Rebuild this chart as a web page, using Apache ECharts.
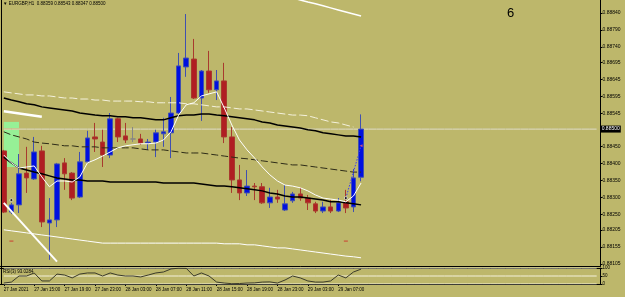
<!DOCTYPE html>
<html>
<head>
<meta charset="utf-8">
<script src="https://cdn.jsdelivr.net/npm/echarts@6/dist/echarts.min.js"></script>
<style>
  html, body { margin: 0; padding: 0; background: #BDB76B; }
  #main { width: 625px; height: 297px; }
</style>
</head>
<body>
<div id="main"></div>
<script>
// EURGBP H1 bars, 27 Jan 11:00 .. 29 Jan 10:00
const times = [
  '27 Jan 11:00', '27 Jan 12:00', '27 Jan 13:00', '27 Jan 14:00', '27 Jan 15:00', '27 Jan 16:00',
  '27 Jan 17:00', '27 Jan 18:00', '27 Jan 19:00', '27 Jan 20:00', '27 Jan 21:00', '27 Jan 22:00',
  '27 Jan 23:00', '28 Jan 00:00', '28 Jan 01:00', '28 Jan 02:00', '28 Jan 03:00', '28 Jan 04:00',
  '28 Jan 05:00', '28 Jan 06:00', '28 Jan 07:00', '28 Jan 08:00', '28 Jan 09:00', '28 Jan 10:00',
  '28 Jan 11:00', '28 Jan 12:00', '28 Jan 13:00', '28 Jan 14:00', '28 Jan 15:00', '28 Jan 16:00',
  '28 Jan 17:00', '28 Jan 18:00', '28 Jan 19:00', '28 Jan 20:00', '28 Jan 21:00', '28 Jan 22:00',
  '28 Jan 23:00', '29 Jan 00:00', '29 Jan 01:00', '29 Jan 02:00', '29 Jan 03:00', '29 Jan 04:00',
  '29 Jan 05:00', '29 Jan 06:00', '29 Jan 07:00', '29 Jan 08:00', '29 Jan 09:00', '29 Jan 10:00'
];
const firstLabel = '27 Jan 2021';

const opens = [
  0.88436, 0.88257, 0.88278, 0.88371, 0.88354, 0.88436, 0.88225, 0.88234, 0.88401, 0.88371,
  0.88301, 0.88404, 0.88477, 0.88462, 0.88424, 0.88530, 0.88480, 0.88471, 0.88471, 0.88459,
  0.88462, 0.88486, 0.88489, 0.88547, 0.88682, 0.88705, 0.88591, 0.88670, 0.88615, 0.88641,
  0.88477, 0.88351, 0.88313, 0.88333, 0.88331, 0.88284, 0.88301, 0.88263, 0.88290, 0.88310,
  0.88298, 0.88281, 0.88260, 0.88272, 0.88260, 0.88287, 0.88272, 0.88359
];
const closes = [
  0.88257, 0.88278, 0.88369, 0.88357, 0.88433, 0.88228, 0.88234, 0.88398, 0.88369, 0.88298,
  0.88404, 0.88474, 0.88471, 0.88424, 0.88530, 0.88477, 0.88468, 0.88471, 0.88459, 0.88462,
  0.88489, 0.88492, 0.88547, 0.88685, 0.88708, 0.88591, 0.88670, 0.88615, 0.88641, 0.88477,
  0.88351, 0.88313, 0.88333, 0.88331, 0.88284, 0.88301, 0.88295, 0.88281, 0.88310, 0.88298,
  0.88284, 0.88260, 0.88272, 0.88260, 0.88284, 0.88269, 0.88357, 0.88500
];
const lows = [
  0.88254, 0.88251, 0.88254, 0.88313, 0.88351, 0.88213, 0.88117, 0.88213, 0.88322, 0.88292,
  0.88298, 0.88401, 0.88433, 0.88389, 0.88415, 0.88462, 0.88459, 0.88462, 0.88454, 0.88439,
  0.88418, 0.88448, 0.88415, 0.88544, 0.88653, 0.88588, 0.88524, 0.88606, 0.88585, 0.88459,
  0.88313, 0.88292, 0.88304, 0.88292, 0.88281, 0.88269, 0.88284, 0.88260, 0.88284, 0.88290,
  0.88263, 0.88254, 0.88254, 0.88254, 0.88257, 0.88254, 0.88257, 0.88347
];
const highs = [
  0.88439, 0.88284, 0.88427, 0.88448, 0.88477, 0.88451, 0.88298, 0.88401, 0.88415, 0.88374,
  0.88433, 0.88495, 0.88518, 0.88498, 0.88547, 0.88533, 0.88518, 0.88506, 0.88486, 0.88471,
  0.88498, 0.88533, 0.88594, 0.88723, 0.88837, 0.88764, 0.88673, 0.88729, 0.88673, 0.88694,
  0.88506, 0.88395, 0.88380, 0.88342, 0.88342, 0.88328, 0.88322, 0.88336, 0.88316, 0.88328,
  0.88307, 0.88287, 0.88287, 0.88292, 0.88298, 0.88322, 0.88383, 0.88543
];

// fast moving average (white)
const maFast = [
  0.88424, 0.88401, 0.88386, 0.88389, 0.88392, 0.88360, 0.88331, 0.88348, 0.88348, 0.88345,
  0.88360, 0.88401, 0.88410, 0.88421, 0.88433, 0.88445, 0.88451, 0.88454, 0.88457, 0.88457,
  0.88459, 0.88468, 0.88492, 0.88541, 0.88571, 0.88577, 0.88597, 0.88603, 0.88609, 0.88562,
  0.88512, 0.88468, 0.88439, 0.88415, 0.88389, 0.88366, 0.88348, 0.88336, 0.88333, 0.88328,
  0.88319, 0.88307, 0.88298, 0.88295, 0.88292, 0.88287, 0.88304, 0.88342
];
// upper black line
const blackUpper = [
  0.88591, 0.88585, 0.88580, 0.88574, 0.88571, 0.88565, 0.88562, 0.88559, 0.88556, 0.88553,
  0.88547, 0.88544, 0.88541, 0.88539, 0.88539, 0.88536, 0.88536, 0.88533, 0.88533, 0.88530,
  0.88527, 0.88527, 0.88533, 0.88539, 0.88541, 0.88541, 0.88544, 0.88544, 0.88541, 0.88539,
  0.88536, 0.88533, 0.88530, 0.88527, 0.88521, 0.88518, 0.88512, 0.88509, 0.88506, 0.88503,
  0.88498, 0.88495, 0.88489, 0.88486, 0.88483, 0.88480, 0.88480, 0.88477
];
// lower black line
const blackLower = [
  0.88418, 0.88401, 0.88386, 0.88380, 0.88374, 0.88369, 0.88363, 0.88357, 0.88354, 0.88351,
  0.88351, 0.88348, 0.88348, 0.88348, 0.88345, 0.88345, 0.88345, 0.88345, 0.88345, 0.88345,
  0.88345, 0.88342, 0.88342, 0.88342, 0.88342, 0.88342, 0.88339, 0.88336, 0.88333, 0.88333,
  0.88331, 0.88328, 0.88325, 0.88322, 0.88319, 0.88313, 0.88310, 0.88304, 0.88301, 0.88301,
  0.88298, 0.88295, 0.88292, 0.88287, 0.88287, 0.88284, 0.88281, 0.88278
];
// dark dashed middle line
const midDashed = [
  0.88492, 0.88483, 0.88477, 0.88471, 0.88462, 0.88459, 0.88457, 0.88454, 0.88451, 0.88451,
  0.88448, 0.88448, 0.88448, 0.88445, 0.88445, 0.88445, 0.88445, 0.88445, 0.88442, 0.88439,
  0.88439, 0.88439, 0.88436, 0.88433, 0.88430, 0.88430, 0.88430, 0.88427, 0.88424, 0.88421,
  0.88418, 0.88415, 0.88413, 0.88410, 0.88407, 0.88404, 0.88401, 0.88398, 0.88395, 0.88395,
  0.88392, 0.88389, 0.88386, 0.88383, 0.88380, 0.88377, 0.88374, 0.88374
];
// white dashed line
const whiteDashed = [
  0.88609, 0.88606, 0.88603, 0.88600, 0.88600, 0.88597, 0.88597, 0.88594, 0.88591, 0.88591,
  0.88588, 0.88588, 0.88585, 0.88585, 0.88582, 0.88582, 0.88582, 0.88582, 0.88580, 0.88580,
  0.88577, 0.88577, 0.88577, 0.88577, 0.88574, 0.88574, 0.88571, 0.88568, 0.88565, 0.88565,
  0.88562, 0.88559, 0.88559, 0.88556, 0.88553, 0.88550, 0.88547, 0.88544, 0.88541, 0.88541,
  0.88539, 0.88533, 0.88527, 0.88521, 0.88518, 0.88512, 0.88506, null
];
// lower white band
const whiteLower = [
  0.88205, 0.88202, 0.88199, 0.88196, 0.88193, 0.88190, 0.88187, 0.88184, 0.88181, 0.88178,
  0.88175, 0.88172, 0.88169, 0.88166, 0.88166, 0.88166, 0.88166, 0.88166, 0.88166, 0.88166,
  0.88166, 0.88166, 0.88166, 0.88166, 0.88166, 0.88166, 0.88166, 0.88166, 0.88166, 0.88164,
  0.88164, 0.88164, 0.88161, 0.88161, 0.88158, 0.88155, 0.88152, 0.88152, 0.88149, 0.88146,
  0.88143, 0.88140, 0.88137, 0.88134, 0.88131, 0.88128, 0.88126, 0.88123
];
// upper white band (only its end is inside the window), from bar 38
const whiteUpperFrom = 38;
const whiteUpper = [0.88884, 0.88878, 0.88872, 0.88867, 0.88861, 0.88855, 0.88849, 0.88843, 0.88837, 0.88831];

const rsi = [
  6, 12, 50, 50, 69, 19, 19, 62, 56, 38,
  62, 69, 69, 50, 69, 56, 50, 50, 44, 56,
  69, 75, 94, 99, 98, 50, 69, 50, 12, 6,
  2, 3, 6, 7, 12, 13, 6, 25, 50, 38,
  19, 12, 12, 19, 56, 38, 75, 93
];
const rsiLevels = [100, 50, 0];

const yTickLabels = [
  '0.88105', '0.88155', '0.88205', '0.88250', '0.88300', '0.88350', '0.88400', '0.88450',
  '0.88545', '0.88595', '0.88645', '0.88695', '0.88740', '0.88790', '0.88840'
];
const rsiTickLabels = ['0', '50', '100'];

// drawn objects: [barIndex, price]
const trendTop = [[0, 0.88552], [5, 0.88536]];
const trendDiag = [[0, 0.88284], [7, 0.88112]];
const signalLine = [[45, 0.88298], [47, 0.88451]];
const signalDots = [[1, 0.88292], [45, 0.88298]];
const stopMarks = [[1, 0.88172], [45, 0.88172]];
const greenBox = { from: 0, to: 2, top: 0.88521, bottom: 0.88389 };

const totalSlots = 79;
const cats = times.concat(Array.from({ length: totalSlots - times.length }, (_, i) => 'f' + i));
const candles = opens.map((o, i) => [o, closes[i], lows[i], highs[i]]);
const lastClose = closes[closes.length - 1];
const upperSeries = cats.map((_, i) => (i >= whiteUpperFrom && i - whiteUpperFrom < whiteUpper.length) ? whiteUpper[i - whiteUpperFrom] : null);
const bidSeries = cats.map(() => lastClose);

const FONT = 'Liberation Sans, Arial, sans-serif';
const labelEvery = (i) => i % 4 === 0 && i <= 44;

const myChart = echarts.init(document.getElementById('main'));

const lineS = (data, color, width, type, z) => ({
  type: 'line', xAxisIndex: 0, yAxisIndex: 0, data: data, showSymbol: false, symbol: 'none',
  lineStyle: { color: color, width: width, type: type || 'solid' }, z: z || 4, silent: true, connectNulls: false
});

// bid line with the black price box on the scale
const bidShadow = lineS(bidSeries, '#A29C58', 2, 'solid', 2);
bidShadow.lineStyle.opacity = 0.9;
const bidLine = lineS(bidSeries, '#F6F3DA', 1, 'solid', 3);
bidLine.endLabel = {
  show: true, distance: 4, formatter: lastClose.toFixed(5),
  backgroundColor: '#000', color: '#fff', fontSize: 5, padding: [1.5, 1, 0.5, 1], fontFamily: FONT
};

const rsiLevelSeries = rsiLevels.map((lv) => ({
  type: 'line', xAxisIndex: 1, yAxisIndex: 1, data: cats.map(() => lv), showSymbol: false, symbol: 'none',
  silent: true, z: 3, lineStyle: { color: '#F4F1DC', width: 1 }
}));

const option = {
  backgroundColor: '#BDB76B',
  animation: false,
  title: [
    { text: '\u25BC EURGBP,H1  0.88359 0.88543 0.88347 0.88500', left: 3, top: 1, padding: 0,
      textStyle: { fontSize: 4.5, fontWeight: 'normal', color: '#000', fontFamily: FONT } },
    { text: '6', left: 507, top: 7, padding: 0,
      textStyle: { fontSize: 13, fontWeight: 'normal', color: '#000', fontFamily: FONT } },
    { text: 'RSI(3) 93.0284', left: 3, top: 269, padding: 0,
      textStyle: { fontSize: 4.5, fontWeight: 'normal', color: '#000', fontFamily: FONT } }
  ],
  graphic: [
    { type: 'line', shape: { x1: 1.5, y1: 0, x2: 1.5, y2: 285 }, style: { stroke: '#000', lineWidth: 1 }, z: 100 }
  ],
  grid: [
    { left: -1.1, right: 24.5, top: 0, height: 266 },
    { left: -1.1, right: 24.5, top: 268, height: 16 }
  ],
  xAxis: [
    { type: 'category', gridIndex: 0, data: cats, boundaryGap: true,
      axisLine: { show: true, lineStyle: { color: '#000', width: 1 } },
      axisTick: { show: false }, axisLabel: { show: false }, splitLine: { show: false } },
    { type: 'category', gridIndex: 1, data: cats, boundaryGap: true, position: 'bottom',
      axisLine: { show: true, lineStyle: { color: '#000', width: 1 } },
      axisTick: { show: true, interval: labelEvery, alignWithLabel: true, length: 2, lineStyle: { color: '#000' } },
      axisLabel: { interval: labelEvery, align: 'left', fontSize: 4.5, margin: 3, color: '#000', fontFamily: FONT,
        formatter: (v, i) => i === 0 ? firstLabel : v },
      splitLine: { show: false } },
    { type: 'category', gridIndex: 1, data: cats, boundaryGap: true, position: 'top',
      axisLine: { show: true, lineStyle: { color: '#000', width: 1 } },
      axisTick: { show: false }, axisLabel: { show: false }, splitLine: { show: false } }
  ],
  yAxis: [
    { type: 'value', gridIndex: 0, position: 'right', min: 0.88099, max: 0.88878,
      splitLine: { show: false },
      axisLine: { show: true, lineStyle: { color: '#000', width: 1 } },
      axisTick: { show: true, length: 2, customValues: yTickLabels.map(Number), lineStyle: { color: '#000' } },
      axisLabel: { customValues: yTickLabels.map(Number), fontSize: 5, margin: 2, color: '#000', fontFamily: FONT,
        formatter: (v) => v.toFixed(5) } },
    { type: 'value', gridIndex: 1, position: 'right', min: 0, max: 100,
      splitLine: { show: false },
      axisLine: { show: true, lineStyle: { color: '#000', width: 1 } },
      axisTick: { show: true, length: 2, customValues: rsiTickLabels.map(Number), lineStyle: { color: '#000' } },
      axisLabel: { customValues: rsiTickLabels.map(Number), fontSize: 4.5, margin: 2, color: '#000', fontFamily: FONT,
        formatter: (v) => String(v) } }
  ],
  series: [
    { type: 'line', xAxisIndex: 0, yAxisIndex: 0, data: [], z: 1, silent: true,
      markArea: { silent: true, itemStyle: { color: '#96F096', opacity: 1 },
        data: [[{ xAxis: greenBox.from, yAxis: greenBox.top }, { xAxis: greenBox.to, yAxis: greenBox.bottom }]] } },
    bidShadow,
    bidLine,
    { type: 'candlestick', xAxisIndex: 0, yAxisIndex: 0, data: candles, barWidth: 5, z: 4, silent: true,
      itemStyle: { color: '#0010E0', color0: '#B01E22', borderColor: '#4050B0', borderColor0: '#A83A2E',
        borderColorDoji: '#858585', borderWidth: 1 } },
    lineS(whiteDashed, '#F4F1DC', 1, [8, 3], 5),
    lineS(midDashed, '#2E2C18', 1, [7, 3], 5),
    lineS(blackUpper, '#000', 1.5, 'solid', 6),
    lineS(blackLower, '#000', 1.5, 'solid', 6),
    lineS(whiteLower, '#FFFFFF', 1, 'solid', 5),
    lineS(upperSeries, '#FFFFFF', 1.5, 'solid', 5),
    lineS(maFast, '#FFFFFF', 1, 'solid', 7),
    lineS(trendTop, '#FFFFFF', 2.5, 'solid', 8),
    lineS(trendDiag, '#FFFFFF', 2, 'solid', 8),
    lineS(signalLine, '#3A3AF0', 1, [1.5, 1.5], 8),
    { type: 'scatter', xAxisIndex: 0, yAxisIndex: 0, data: signalDots, symbol: 'circle', symbolSize: 3, z: 9, silent: true,
      itemStyle: { color: '#000', borderColor: '#fff', borderWidth: 0.8 } },
    { type: 'scatter', xAxisIndex: 0, yAxisIndex: 0, data: stopMarks, symbol: 'rect', symbolSize: [4, 1], z: 9, silent: true,
      itemStyle: { color: '#D02020' } },
    { type: 'scatter', xAxisIndex: 0, yAxisIndex: 0, data: [[47, 0.88451]], symbol: 'triangle', symbolSize: 3,
      symbolRotate: 90, z: 9, silent: true, itemStyle: { color: '#F06070' } },
    ...rsiLevelSeries,
    { type: 'line', xAxisIndex: 1, yAxisIndex: 1, data: rsi, showSymbol: false, symbol: 'none', silent: true, z: 4,
      lineStyle: { color: '#3A3A2A', width: 1 } }
  ]
};

myChart.setOption(option);
</script>
</body>
</html>
